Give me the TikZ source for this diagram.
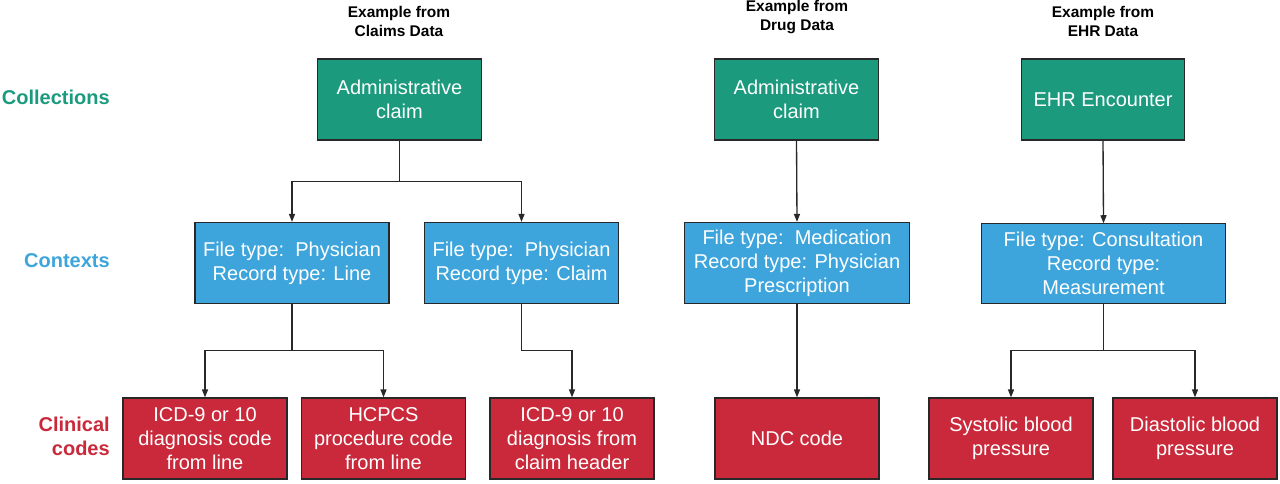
\documentclass[tikz,border=0pt]{standalone}
\usepackage{fontspec}
\setmainfont{Liberation Sans}
\usetikzlibrary{arrows.meta}
\usetikzlibrary{positioning}
\definecolor{mgreen}{RGB}{27, 154, 126}
\definecolor{mblue}{RGB}{61, 165, 220}
\definecolor{mred}{RGB}{201, 41, 58}
\definecolor{mline}{RGB}{40, 40, 40}
\tikzset{box/.style = {draw = mline, line width = 0.9pt, text = white, inner sep = 0,
                       align = center, minimum height = 60.75pt,
                       font = \fontsize{15}{18}\selectfont}}
\tikzset{coll/.style = {box, fill = mgreen, minimum width = 122.5pt}}
\tikzset{ctx/.style = {box, fill = mblue}}
\tikzset{code/.style = {box, fill = mred, minimum width = 123pt}}
\tikzset{rowlab/.style = {anchor = east, align = right, inner sep = 0,
                          font = \fontsize{15}{18}\selectfont\bfseries}}
\tikzset{head/.style = {align = center, inner sep = 0,
                        font = \fontsize{11.6}{14.25}\selectfont\bfseries}}
\tikzset{link/.style = {draw = mline, line width = 1pt,
                        -{Triangle[length = 6pt, width = 4.5pt]}}}

\begin{document}
\begin{tikzpicture}[x = 0.75pt, y = -0.75pt]
          \useasboundingbox (0, 0) rectangle (1280, 483);
          % row labels
          \node [rowlab, mgreen] (lcoll) at (110, 97) {Collections};
          \node [rowlab, mblue] (lctx) at (110, 261) {Contexts};
          \node [rowlab, mred] (lcode) at (110, 436) {Clinical\\codes};
          % column headers
          \node [head] (hclaims) at (399, 21.5) {Example from\\Claims Data};
          \node [head] (hdrug) at (797, 17.5) {Example from\\Drug Data};
          \node [head] (hehr) at (1103, 21.5) {Example from\\EHR Data};
          % collections
          \node [coll] (claimA) at (399.5, 99.5) {Administrative\\claim};
          \node [coll] (claimB) at (796.5, 99.5) {Administrative\\claim};
          \node [coll] (ehr) at (1103, 99.5) {EHR Encounter};
          % contexts
          \node [ctx, minimum width = 145.5pt] (line) at (292, 263) {File type:\ \ Physician\\Record type: Line};
          \node [ctx, minimum width = 145pt] (claim) at (521.5, 263) {File type:\ \ Physician\\Record type: Claim};
          \node [ctx, minimum width = 168.5pt] (medic) at (797, 263) {File type:\ \ Medication\\Record type: Physician\\Prescription};
          \node [ctx, minimum width = 183.5pt, minimum height = 59.5pt] (consult) at (1103.5, 263.5) {File type: Consultation\\Record type:\\Measurement};
          % clinical codes
          \node [code] (icdline) at (205, 438.5) {ICD-9 or 10\\diagnosis code\\from line};
          \node [code] (hcpcs) at (383.5, 438.5) {HCPCS\\procedure code\\from line};
          \node [code] (icdhead) at (572, 438.5) {ICD-9 or 10\\diagnosis from\\claim header};
          \node [code] (ndc) at (797, 438.5) {NDC code};
          \node [code] (systolic) at (1011, 438.5) {Systolic blood\\pressure};
          \node [code] (diastolic) at (1195, 438.5) {Diastolic blood\\pressure};
          % connectors
          \draw [link] (claimA.south) -- ++(0, 41) -| (line.north);
          \draw [link] (claimA.south) -- ++(0, 41) -| (claim.north);
          \draw [link] (line.south) -- ++(0, 46.5) -| (icdline.north);
          \draw [link] (line.south) -- ++(0, 46.5) -| (hcpcs.north);
          \draw [link] (claim.south) -- ++(0, 46.5) -| (icdhead.north);
          \draw [link] (claimB.south) -- (medic.north);
          \draw [link] (medic.south) -- (ndc.north);
          \draw [link] (ehr.south) -- (consult.north);
          \draw [link] (consult.south) -- ++(0, 47) -| (systolic.north);
          \draw [link] (consult.south) -- ++(0, 47) -| (diastolic.north);
        \end{tikzpicture}
\end{document}
